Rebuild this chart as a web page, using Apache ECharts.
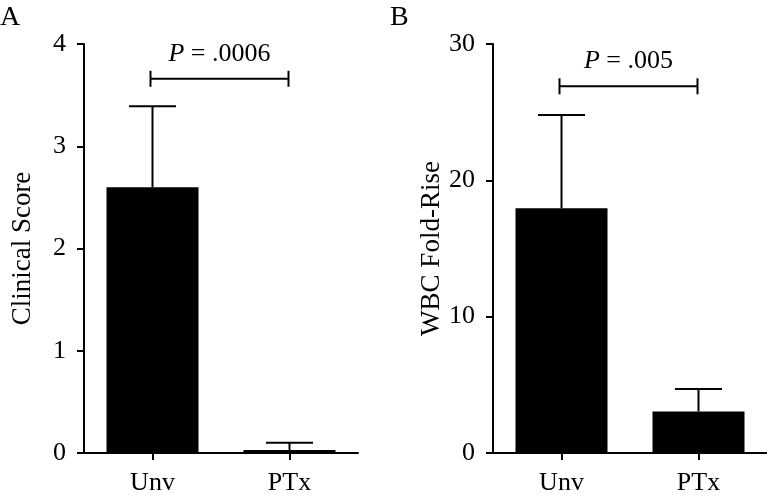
<!DOCTYPE html>
<html>
<head>
<meta charset="utf-8">
<script src="https://cdn.jsdelivr.net/npm/echarts@6/dist/echarts.min.js"></script>
<style>
html,body{margin:0;padding:0;background:#fff;}
#chart{width:767px;height:498px;}
</style>
</head>
<body>
<div id="chart"></div>
<script>
// ---- data ----
const categories = ['Unv', 'PTx'];
const clinicalMean = [2.60, 0.03];
const clinicalUpper = [3.39, 0.10];
const wbcMean = [17.95, 3.05];
const wbcUpper = [24.8, 4.7];
const panelLetters = ['A', 'B'];
const yTitles = ['Clinical Score', 'WBC Fold-Rise'];
const yMax = [4, 30];
const yInterval = [1, 10];
const pValues = ['.0006', '.005'];
const bracketY = [3.66, 26.9];

const FONT = 'Liberation Serif';
const FS = 26;
const chart = echarts.init(document.getElementById('chart'), null, {renderer: 'canvas'});

const grids = [
  {left: 84, top: 44, width: 274, height: 409},
  {left: 493, top: 44, width: 274, height: 409}
];

function xAxis(i) {
  return {
    type: 'category', gridIndex: i, data: categories,
    axisLine: {lineStyle: {color: '#000', width: 2}},
    axisTick: {show: true, alignWithLabel: true, length: 7, lineStyle: {color: '#000', width: 2}},
    axisLabel: {color: '#000', fontFamily: FONT, fontSize: FS, margin: 17}
  };
}
function yAxis(i) {
  return {
    type: 'value', gridIndex: i, min: 0, max: yMax[i], interval: yInterval[i],
    name: yTitles[i], nameLocation: 'middle', nameGap: 48,
    nameTextStyle: {color: '#000', fontFamily: FONT, fontSize: 27},
    splitLine: {show: false},
    axisLine: {show: true, lineStyle: {color: '#000', width: 2}},
    axisTick: {show: true, length: 7, lineStyle: {color: '#000', width: 2}},
    axisLabel: {color: '#000', fontFamily: FONT, fontSize: FS, margin: 18}
  };
}

function errorSeries(i, means, uppers) {
  return {
    type: 'custom', xAxisIndex: i, yAxisIndex: i, z: 5,
    data: means.map((m, k) => [k, m, uppers[k]]),
    renderItem: function (params, api) {
      const base = api.coord([api.value(0), api.value(1)]);
      const top = api.coord([api.value(0), api.value(2)]);
      const hw = 23.5;
      const st = {stroke: '#000', lineWidth: 2};
      return {
        type: 'group', children: [
          {type: 'line', shape: {x1: base[0], y1: base[1], x2: top[0], y2: top[1]}, style: st},
          {type: 'line', shape: {x1: top[0] - hw, y1: top[1], x2: top[0] + hw, y2: top[1]}, style: st}
        ]
      };
    }
  };
}

function bracketSeries(i) {
  return {
    type: 'custom', xAxisIndex: i, yAxisIndex: i, z: 5,
    data: [[0, 1, bracketY[i]]],
    renderItem: function (params, api) {
      const a = api.coord([api.value(0), api.value(2)]);
      const b = api.coord([api.value(1), api.value(2)]);
      const x1 = a[0] - 2, x2 = b[0] - 1, y = a[1];
      const st = {stroke: '#000', lineWidth: 2};
      return {
        type: 'group', children: [
          {type: 'line', shape: {x1: x1, y1: y, x2: x2, y2: y}, style: st},
          {type: 'line', shape: {x1: x1, y1: y - 8, x2: x1, y2: y + 8}, style: st},
          {type: 'line', shape: {x1: x2, y1: y - 8, x2: x2, y2: y + 8}, style: st},
          {type: 'text', x: (x1 + x2) / 2, y: y - 12,
            style: {
              text: '{i|P} = ' + pValues[i], align: 'center', verticalAlign: 'bottom',
              fill: '#000', fontFamily: FONT, fontSize: FS,
              rich: {i: {fontStyle: 'italic', fontFamily: FONT, fontSize: FS, fill: '#000'}}
            }}
        ]
      };
    }
  };
}

function barSeries(i, means) {
  return {
    type: 'bar', xAxisIndex: i, yAxisIndex: i, data: means, barWidth: 92,
    itemStyle: {color: '#000'}, silent: true, z: 2
  };
}

chart.setOption({
  animation: false,
  backgroundColor: '#fff',
  grid: grids,
  xAxis: [xAxis(0), xAxis(1)],
  yAxis: [yAxis(0), yAxis(1)],
  graphic: [
    {type: 'text', left: 0, top: 4, style: {text: panelLetters[0], fontFamily: FONT, fontSize: 28, fill: '#000'}},
    {type: 'text', left: 390, top: 4, style: {text: panelLetters[1], fontFamily: FONT, fontSize: 28, fill: '#000'}}
  ],
  series: [
    barSeries(0, clinicalMean),
    errorSeries(0, clinicalMean, clinicalUpper),
    bracketSeries(0),
    barSeries(1, wbcMean),
    errorSeries(1, wbcMean, wbcUpper),
    bracketSeries(1)
  ]
});
</script>
</body>
</html>
